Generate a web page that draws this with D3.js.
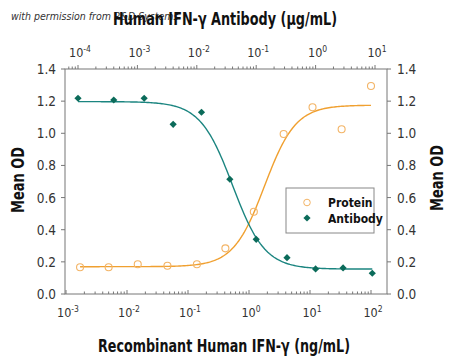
<!DOCTYPE html>
<html>
<head>
<meta charset="utf-8">
<script src="https://cdn.jsdelivr.net/npm/d3@7"></script>
<style>
  body { margin: 0; background: #fff; }
  svg { display: block; }
  text { font-family: "DejaVu Sans Condensed", "DejaVu Sans", sans-serif; font-stretch: condensed; }
</style>
</head>
<body>
<div id="chart"></div>
<script>
// Recombinant protein (ng/mL, bottom axis) vs Mean OD
const proteinConc = [0.0017, 0.005, 0.015, 0.046, 0.14, 0.41, 1.2, 3.7, 11, 33, 100];
const proteinOD   = [0.166, 0.166, 0.185, 0.176, 0.185, 0.284, 0.512, 0.996, 1.162, 1.025, 1.294];

// Neutralizing antibody (ug/mL, top axis) vs Mean OD
const antibodyConc = [0.0001, 0.0004, 0.0013, 0.004, 0.012, 0.036, 0.1, 0.33, 1, 2.9, 9];
const antibodyOD   = [1.218, 1.207, 1.218, 1.056, 1.131, 0.714, 0.340, 0.226, 0.156, 0.162, 0.129];

// 4-parameter logistic fits [bottom, top, ec50, hill]
const proteinFit  = [0.17, 1.175, 1.8, 1.7];
const antibodyFit = [0.155, 1.197, 0.040, 1.6];

const yTicks = [0, 0.2, 0.4, 0.6, 0.8, 1.0, 1.2, 1.4];
const bottomDecades = [-3, -2, -1, 0, 1, 2];
const topDecades = [-4, -3, -2, -1, 0, 1];

const W = 450, H = 362;
const L = 65, R = 387, T = 69, B = 294;

const svg = d3.select("#chart").append("svg")
    .attr("width", W)
    .attr("height", H);

const y = d3.scaleLinear().domain([0, 1.4]).range([B, T]);

// bottom log scale: 10^-3 at x=66, 10^2 at x=371
const xB = d3.scaleLog().domain([1e-3, 1e2]).range([66, 371]);
xB.domain([xB.invert(L), xB.invert(R)]).range([L, R]);
// top log scale: 10^-4 at x=78, 10^1 at x=375
const xT = d3.scaleLog().domain([1e-4, 1e1]).range([78, 375]);
xT.domain([xT.invert(L), xT.invert(R)]).range([L, R]);

const axisColor = "#777";

// watermark
svg.append("text")
    .attr("x", 11).attr("y", 20)
    .attr("font-family", "DejaVu Serif")
    .style("font-stretch", "normal")
    .attr("font-style", "italic")
    .attr("font-size", 10.5)
    .attr("fill", "#333")
    .text("with permission from R&D Systems");

// frame
svg.append("rect")
    .attr("x", L).attr("y", T)
    .attr("width", R - L).attr("height", B - T)
    .attr("fill", "none")
    .attr("stroke", axisColor)
    .attr("stroke-width", 1);

// log tick marks
function logTicks(scale) {
    const out = [];
    const [a, b] = scale.domain();
    for (let e = Math.floor(Math.log10(a)); e <= Math.ceil(Math.log10(b)); e++) {
        for (let m = 1; m <= 9; m++) {
            const v = m * Math.pow(10, e);
            if (v >= a && v <= b) out.push({ v, major: m === 1 });
        }
    }
    return out;
}

svg.append("g").selectAll("line")
    .data(logTicks(xB))
    .join("line")
    .attr("x1", d => xB(d.v)).attr("x2", d => xB(d.v))
    .attr("y1", B).attr("y2", d => B - (d.major ? 4 : 2.5))
    .attr("stroke", axisColor);

svg.append("g").selectAll("line")
    .data(logTicks(xT))
    .join("line")
    .attr("x1", d => xT(d.v)).attr("x2", d => xT(d.v))
    .attr("y1", T).attr("y2", d => T - (d.major ? 4 : 2.5))
    .attr("stroke", axisColor);

// y ticks both sides
svg.append("g").selectAll("line")
    .data(yTicks)
    .join("line")
    .attr("x1", L - 4).attr("x2", L)
    .attr("y1", d => y(d)).attr("y2", d => y(d))
    .attr("stroke", axisColor);

svg.append("g").selectAll("line")
    .data(yTicks)
    .join("line")
    .attr("x1", R).attr("x2", R + 4)
    .attr("y1", d => y(d)).attr("y2", d => y(d))
    .attr("stroke", axisColor);

svg.append("g").selectAll("text")
    .data(yTicks)
    .join("text")
    .attr("x", L - 9).attr("y", d => y(d) + 5)
    .attr("text-anchor", "end")
    .attr("font-size", 13.5)
    .attr("fill", "#333")
    .text(d => d.toFixed(1));

svg.append("g").selectAll("text")
    .data(yTicks)
    .join("text")
    .attr("x", R + 10).attr("y", d => y(d) + 5)
    .attr("text-anchor", "start")
    .attr("font-size", 13.5)
    .attr("fill", "#333")
    .text(d => d.toFixed(1));

// power-of-ten labels
function powLabels(g, decades, scale, yy) {
    const t = g.selectAll("text")
        .data(decades)
        .join("text")
        .attr("x", d => scale(Math.pow(10, d)) + 2)
        .attr("y", yy)
        .attr("text-anchor", "middle")
        .attr("font-size", 12.5)
        .attr("fill", "#333");
    t.append("tspan").text("10");
    t.append("tspan")
        .attr("dy", -5)
        .attr("font-size", 8.5)
        .text(d => d);
}
powLabels(svg.append("g"), bottomDecades, xB, 317);
powLabels(svg.append("g"), topDecades, xT, 57);

// titles
function title(x, yy, txt, len, rot) {
    svg.append("text")
        .attr("transform", `translate(${x},${yy})` + (rot ? " rotate(-90)" : ""))
        .attr("text-anchor", "middle")
        .attr("font-size", 18)
        .attr("font-weight", "bold")
        .attr("fill", "#111")
        .attr("textLength", len)
        .attr("lengthAdjust", "spacingAndGlyphs")
        .text(txt);
}
title(225, 25, "Human IFN-γ Antibody (μg/mL)", 224);
title(224, 352, "Recombinant Human IFN-γ (ng/mL)", 252);
title(24, 180, "Mean OD", 66, true);
title(443, 178, "Mean OD", 66, true);

// fitted curves
function logistic(p, rising) {
    const [bot, top, ec, h] = p;
    return x => {
        const r = Math.pow(x / ec, h);
        return rising ? bot + (top - bot) * r / (1 + r) : bot + (top - bot) / (1 + r);
    };
}

const teal = "#1b8580", tealDark = "#0b6b5a";
const orange = "#f0a030", orangeLight = "#f3b466";

function curve(conc, f, scale, color) {
    const lo = Math.log10(d3.min(conc)), hi = Math.log10(d3.max(conc));
    const pts = d3.range(0, 201).map(i => Math.pow(10, lo + (hi - lo) * i / 200));
    svg.append("path")
        .datum(pts)
        .attr("fill", "none")
        .attr("stroke", color)
        .attr("stroke-width", 1.4)
        .attr("d", d3.line().x(d => scale(d)).y(d => y(f(d))));
}

curve(proteinConc, logistic(proteinFit, true), xB, orange);
curve(antibodyConc, logistic(antibodyFit, false), xT, teal);

// points
svg.append("g").selectAll("circle")
    .data(proteinConc)
    .join("circle")
    .attr("cx", d => xB(d))
    .attr("cy", (d, i) => y(proteinOD[i]))
    .attr("r", 3.5)
    .attr("fill", "none")
    .attr("stroke", orangeLight)
    .attr("stroke-width", 1.1);

const diamond = d3.symbol(d3.symbolSquare, 26);
svg.append("g").selectAll("path")
    .data(antibodyConc)
    .join("path")
    .attr("d", diamond)
    .attr("transform", (d, i) => `translate(${xT(d)},${y(antibodyOD[i])}) rotate(45)`)
    .attr("fill", tealDark);

// legend
const lg = svg.append("g");
lg.append("rect")
    .attr("x", 286).attr("y", 188)
    .attr("width", 88).attr("height", 45)
    .attr("fill", "#fff")
    .attr("stroke", "#888");
lg.append("circle")
    .attr("cx", 307).attr("cy", 202.5).attr("r", 3.3)
    .attr("fill", "none").attr("stroke", orangeLight);
lg.append("path")
    .attr("d", diamond)
    .attr("transform", "translate(307,218) rotate(45)")
    .attr("fill", tealDark);
lg.append("text").attr("x", 328).attr("y", 207)
    .attr("font-size", 12).attr("font-weight", 600).attr("fill", "#111").text("Protein");
lg.append("text").attr("x", 328).attr("y", 223)
    .attr("font-size", 12).attr("font-weight", 600).attr("fill", "#111").text("Antibody");
</script>
</body>
</html>
